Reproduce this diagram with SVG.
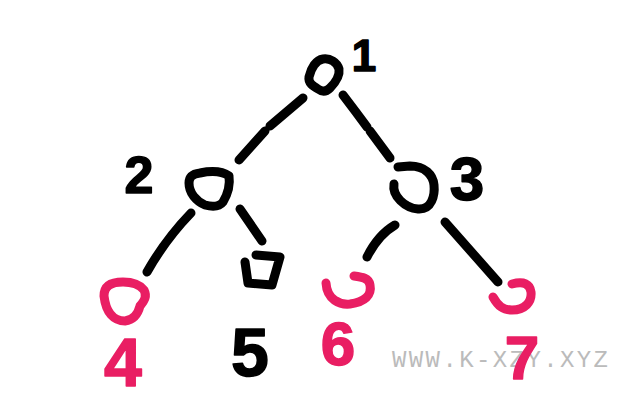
<svg xmlns="http://www.w3.org/2000/svg" width="640" height="400" viewBox="0 0 640 400">
<style>
.k{fill:none;stroke:#000;stroke-width:9;stroke-linecap:round;stroke-linejoin:round}
.p{fill:none;stroke:#E91E63;stroke-width:9;stroke-linecap:round;stroke-linejoin:round}
.lk{font-family:"Liberation Sans",Arial,sans-serif;font-weight:bold;fill:#000;stroke:#000;stroke-width:1.5;stroke-linejoin:round;text-anchor:middle}
.lp{font-family:"Liberation Sans",Arial,sans-serif;font-weight:bold;fill:#E91E63;stroke:#E91E63;stroke-width:1.5;stroke-linejoin:round;text-anchor:middle}
.wm{font-family:"Liberation Mono","DejaVu Sans Mono",monospace;fill:#bbbbbb}
</style>
<rect width="640" height="400" fill="#fff"/>
<g id="connectors">
<path class="k" d="M303,98 L270,126 M265,131 L239,160"/>
<path class="k" d="M343,95 Q356,112 367,127 M370,131 L390,158"/>
<path class="k" d="M191,213 Q165,240 147,272"/>
<path class="k" d="M240,209 L262,241"/>
<path class="k" d="M395,225 Q378,235 367,257"/>
<path class="k" d="M445,222 L498,282"/>
</g>
<g id="node1">
<path class="k" d="M309,77 C311,68 316,60 323,59 C330,58 337,62 339,69 C340,76 334,84 330,88 C326,92 322,92 318,89 C313,86 308,83 309,77 Z"/>
<text class="lk" x="364" y="71" font-size="44">1</text>
</g>
<g id="node2">
<path class="k" d="M189,183 C189,177 192,174 200,173 C210,171 222,171 229,176 C230,183 229,192 223,202 C219,207 212,207 205,205 C196,201 189,193 189,183 Z"/>
<text class="lk" x="139" y="193" font-size="52">2</text>
</g>
<g id="node3">
<path class="k" d="M394,184 C392,196 405,208 418,209 C432,210 435,195 434,185 C433,175 425,166 410,166 L398,167"/>
<text class="lk" x="467" y="200" font-size="62">3</text>
</g>
<g id="node4">
<path class="p" d="M104,296 C104,286 111,282 123,282 C133,282 140,285 144,290 C147,296 145,300 140,306 C138,314 133,320 125,321 C114,321 106,313 104,296 Z"/>
<text class="lp" x="123" y="386" font-size="68">4</text>
</g>
<g id="node5">
<path class="k" d="M245,262 L248,283 L272,285 L280,257 L256,255"/>
<text class="lk" x="250" y="376" font-size="68">5</text>
</g>
<g id="node6">
<path class="p" d="M326,283 C327,300 340,305 350,304 C365,302 372,295 370,285 C369,278 362,277 354,276"/>
<text class="lp" x="338" y="365" font-size="62">6</text>
</g>
<g id="node7">
<path class="p" d="M493,297 C498,306 503,310 512,310 C525,310 532,302 531,292 C530,284 524,281 512,284"/>
</g>
<text class="wm" x="392" y="367" font-size="24" textLength="216" lengthAdjust="spacing">WWW.K-XZY.XYZ</text>
<text class="lp" x="522" y="379" font-size="62">7</text>
</svg>
